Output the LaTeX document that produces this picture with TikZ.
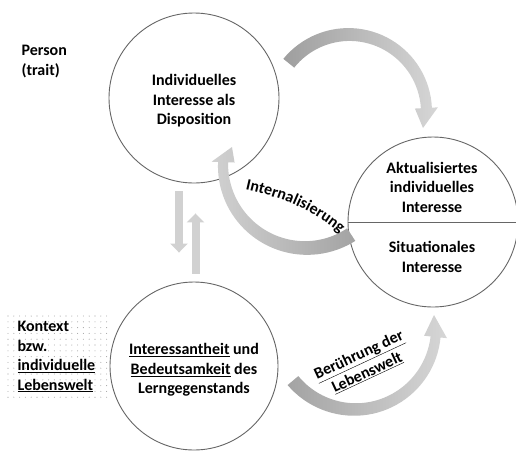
\documentclass[tikz,border=0pt]{standalone}
\usepackage{fontspec}
\setmainfont{Carlito}
\usetikzlibrary{arrows.meta,decorations.text}

% gebogener Blockpfeil: Mittelpunkt, Radius, Winkel, Breiten, Spitze
\newcommand{\bandarrow}[9][]{%
  \shade[#1] plot[domain=#5:#6,samples=40]
      ({#2+(#4+(#7+(#8-#7)*(\x-#5)/(#6-#5))/2)*cos(\x)},
       {#3+(#4+(#7+(#8-#7)*(\x-#5)/(#6-#5))/2)*sin(\x)})
    -- ({#2+(#4+11.5)*cos(#6)},{#3+(#4+11.5)*sin(#6)}) -- #9
    -- ({#2+(#4-11.5)*cos(#6)},{#3+(#4-11.5)*sin(#6)})
    -- plot[domain=#6:#5,samples=40]
      ({#2+(#4-(#7+(#8-#7)*(\x-#5)/(#6-#5))/2)*cos(\x)},
       {#3+(#4-(#7+(#8-#7)*(\x-#5)/(#6-#5))/2)*sin(\x)})
    -- cycle;}

\begin{document}
\begin{tikzpicture}[x=1pt,y=-1pt,
    every node/.style={font=\bfseries\fontsize{16}{19.5}\selectfont},
    circ/.style={circle,draw=black!60,line width=0.9pt,fill=white,
        minimum size=170pt,inner sep=0pt},
    lbl/.style={align=center},
    updown/.style={draw=black!18,line width=8pt,
        -{Triangle[width=17pt,length=9pt]}}]
  \useasboundingbox (0,0) rectangle (516,451);
  % Kontext-Hintergrund
  \foreach \i in {0,...,17}
    \foreach \j in {0,...,14}
      \fill[black!35] (8+5.8*\i,316+5.8*\j) circle (0.55);
  % Kreise
  \node[circ] (Indiv) at (194,98) {};
  \node[lbl,yshift=-3] (IndivText) at (Indiv) {Individuelles\\Interesse als\\Disposition};
  \node[circ] (Aktual) at (433,222) {};
  \draw[black!60,line width=0.9pt] (Aktual.west) -- (Aktual.east);
  \node[lbl] (AktText) at (432,187) {Aktualisiertes\\individuelles\\Interesse};
  \node[lbl] (SitText) at (432,257) {Situationales\\Interesse};
  \node[circ,minimum size=168pt] (Lern) at (194,366) {};
  \node[lbl,yshift=-4] (LernText) at (Lern)
      {\underline{Interessantheit} und\\\underline{Bedeutsamkeit} des\\Lerngegenstands};
  \node[anchor=base west,align=left] (Person) at (18,75) {Person\\(trait)};
  \node[anchor=base west,align=left] (Kontext) at (14,390)
      {Kontext\\bzw.\\\underline{individuelle}\\\underline{Lebenswelt}};
  % Pfeile
  \draw[updown] ([shift={(-15,8)}]Indiv.south) -- ([shift={(-15,-29)}]Lern.north);
  \draw[updown] ([shift={(1.5,-8)}]Lern.north) -- ([shift={(1.5,30)}]Indiv.south);
  \bandarrow[left color=black!38,right color=black!16]{349}{112}{77.5}{-141}{-3}{14}{11}{(423,128)}
  \bandarrow[left color=black!18,right color=black!36]{306}{165}{83}{57}{182}{15}{10}{(232,147)}
  \bandarrow[left color=black!36,right color=black!16]{355}{328.5}{81}{140}{6}{14}{10}{(434,315)}
  \path[decorate,decoration={text along path,text align=center,
      text={|\bfseries\fontsize{16}{19.5}\selectfont|Internalisierung}}]
      (244,189) .. controls (280,197) and (312,209) .. (341,234);
  \node[rotate=25,align=center] (Beruehr) at (363,364)
      {\underline{Berührung der}\\\underline{Lebenswelt}};
\end{tikzpicture}
\end{document}
